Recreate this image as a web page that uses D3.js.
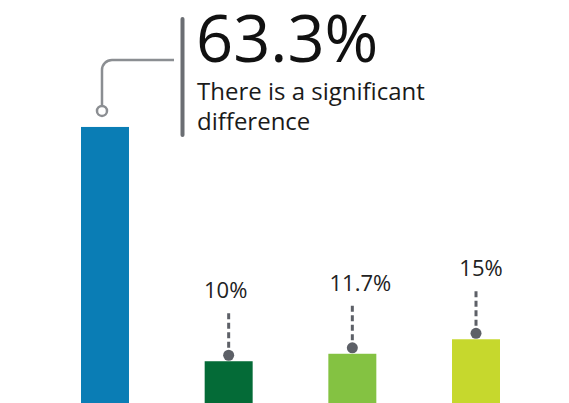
<!DOCTYPE html>
<html>
<head>
<meta charset="utf-8">
<script src="https://cdn.jsdelivr.net/npm/d3@7"></script>
<style>
  html, body { margin: 0; padding: 0; background: #fff; overflow: hidden; }
  svg { display: block; font-family: "Open Sans", sans-serif; }
</style>
</head>
<body>
<svg id="chart" width="569" height="403"></svg>
<script>
// Share of respondents per group
const categories = ["total", "group1", "group2", "group3"];
const values = [63.3, 10, 11.7, 15];
const valueLabels = ["63.3%", "10%", "11.7%", "15%"];
const calloutLines = ["There is a significant", "difference"];

// Styling
const palette = ["#0a7db5", "#046b37", "#84c242", "#c6d82d"];
const labelNudge = [0, -3, 8, 5];
const markerGray = "#5d6067";

const svg = d3.select("#chart");

const x = d3.scaleBand()
  .domain(categories)
  .range([81, 500])
  .paddingInner(0.612)
  .paddingOuter(0);

const y = d3.scaleLinear()
  .domain([0, 70])
  .range([405.2, 97.5]);

const bw = x.bandwidth();
const cx = d => x(d.cat) + bw / 2;

const rows = categories.map((cat, i) => ({
  cat, value: values[i], label: valueLabels[i], color: palette[i], nudge: labelNudge[i], i
}));

const small = rows.filter(d => d.i > 0);

// Value labels with dashed leaders and dots above the smaller bars
svg.append("g").selectAll("line")
  .data(small).join("line")
  .attr("x1", cx).attr("x2", cx)
  .attr("y1", d => y(d.value) - 48)
  .attr("y2", d => y(d.value) - 6)
  .attr("stroke", markerGray)
  .attr("stroke-width", 3)
  .attr("stroke-dasharray", "6,3.5");

svg.append("g").selectAll("circle")
  .data(small).join("circle")
  .attr("cx", cx)
  .attr("cy", d => y(d.value) - 6)
  .attr("r", 5.5)
  .attr("fill", markerGray);

svg.append("g").selectAll("text")
  .data(small).join("text")
  .attr("x", d => cx(d) + d.nudge)
  .attr("y", d => y(d.value) - 63)
  .attr("text-anchor", "middle")
  .attr("font-size", 22)
  .attr("fill", "#222")
  .text(d => d.label);

// Bars
svg.append("g").selectAll("rect")
  .data(rows).join("rect")
  .attr("x", d => x(d.cat))
  .attr("y", d => y(d.value))
  .attr("width", bw)
  .attr("height", d => y(0) - y(d.value))
  .attr("fill", d => d.color);

// Callout for the leading bar
const lead = rows[0];
const px = cx(lead) - 3;
const py = y(lead.value) - 16;
const elbowY = 60;
const r = 10;

svg.append("path")
  .attr("d", `M${px},${py - 5} V${elbowY + r} A${r},${r} 0 0 1 ${px + r},${elbowY} H174`)
  .attr("fill", "none")
  .attr("stroke", "#8b8e92")
  .attr("stroke-width", 2.5);

svg.append("circle")
  .attr("cx", px).attr("cy", py).attr("r", 5)
  .attr("fill", "#fff")
  .attr("stroke", "#8b8e92")
  .attr("stroke-width", 2.5);

svg.append("line")
  .attr("x1", 182.5).attr("x2", 182.5)
  .attr("y1", 19).attr("y2", 135)
  .attr("stroke", "#6b6e73")
  .attr("stroke-width", 4)
  .attr("stroke-linecap", "round");

svg.append("text")
  .attr("x", 196).attr("y", 62)
  .attr("font-size", 65)
  .attr("fill", "#111")
  .text(lead.label);

svg.append("g").selectAll("text")
  .data(calloutLines).join("text")
  .attr("x", 197)
  .attr("y", (d, i) => 100 + i * 30)
  .attr("font-size", 24)
  .attr("fill", "#1a1a1a")
  .text(d => d);
</script>
</body>
</html>
